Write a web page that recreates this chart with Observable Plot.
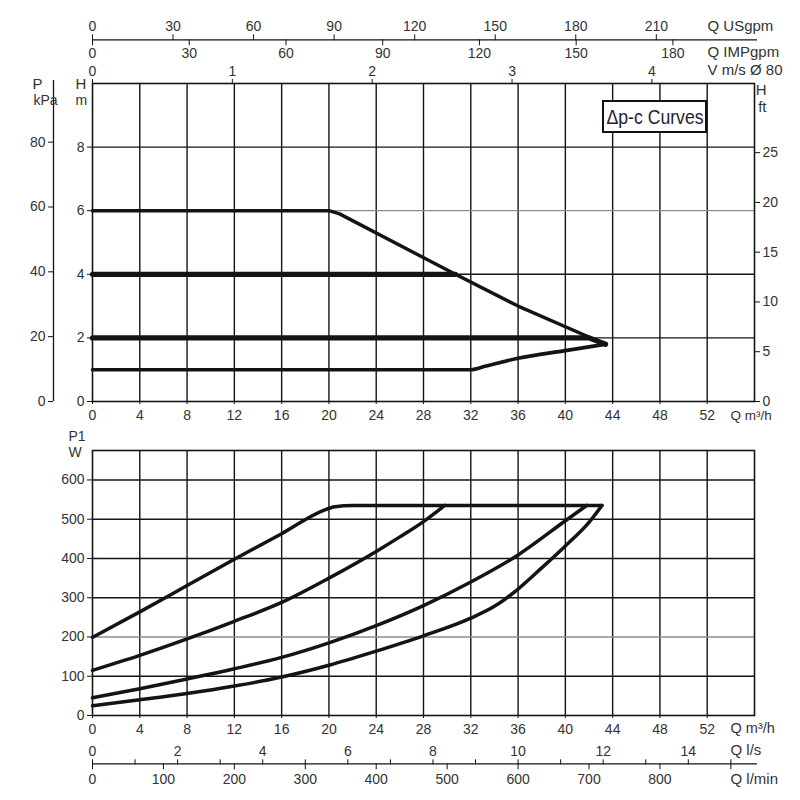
<!DOCTYPE html>
<html><head><meta charset="utf-8">
<script src="https://cdn.jsdelivr.net/npm/d3@7"></script>
<script src="https://cdn.jsdelivr.net/npm/@observablehq/plot@0.6"></script>
<style>
html,body{margin:0;padding:0;background:#fff;}
#wrap{position:relative;width:800px;height:800px;overflow:hidden;font-family:"Liberation Sans",Arial,sans-serif;}
#wrap svg{position:absolute;left:0;overflow:visible;}
#legend{position:absolute;left:602px;top:100px;width:101px;height:29px;border:2px solid #111;background:#fff;
  font-family:"Liberation Sans",Arial,sans-serif;font-size:20.5px;line-height:29px;color:#223;
  white-space:nowrap;overflow:hidden;}
#legend span{position:absolute;left:50%;top:0;transform:translateX(-50%) scaleX(0.86);}
</style></head>
<body><div id="wrap"></div>
<script>
// ---------- data ----------
// flow axis (m3/h)
const qTicks = [0,4,8,12,16,20,24,28,32,36,40,44,48,52];
const qGrid  = [4,8,12,16,20,24,28,32,36,40,44,48,52];
// upper chart: head H (m), Δp-c curves
const hTicks = [0,2,4,6,8];
const hGridDark = [2,4,8];
const hGridLight = [6];
const kpaTicks = [0,20,40,60,80];
const ftTicks = [0,5,10,15,20,25];
const usTicks = [0,30,60,90,120,150,180,210];
const impTicks = [0,30,60,90,120,150,180];
const vTicks = [0,1,2,3,4];

const upQ6 = [0,20,20.9,30.7,36,43.4];
const upH6 = [6,6,5.9,4.0,3.0,1.8];
const upQ4 = [0,30.7];
const upH4 = [4,4];
const upQ2 = [0,42,43.4];
const upH2 = [2,2,1.8];
const upQ1 = [0,32,33.3,36,40,43.4];
const upH1 = [1.0,1.0,1.12,1.36,1.6,1.8];

// lower chart: input power P1 (W)
const wTicks = [0,100,200,300,400,500,600];
const wGridDark = [100,300,400,500,600];
const wGridLight = [200];
const lsTicks = [0,1,2,3,4,5,6,7,8,9,10,11,12,13,14,15];
const lsLabels = [0,2,4,6,8,10,12,14];
const lminTicks = [0,100,200,300,400,500,600,700,800,900];
const lminLabels = [0,100,200,300,400,500,600,700,800];

const pQ6 = [0,4,8,12,16,19.5,20.5,22,43.1];
const pW6 = [199,264,331,398,463,522,532,535,535];
const pQ4 = [0,4,8,12,16,20,24,26,28,29.8];
const pW4 = [115,153,195,240,288,350,418,455,494,535];
const pQ2 = [0,4,8,12,16,20,24,28,32,36,40,41.8];
const pW2 = [45,68,93,119,148,185,229,280,340,409,496,535];
const pQ1 = [0,4,8,12,16,20,24,28,32,34,36,38,40,42,43.1];
const pW1 = [25,40,56,75,98,128,164,203,248,278,322,376,432,492,535];

// unit conversions (to m3/h, m)
const M3H_PER_USGPM = 0.22712;
const M3H_PER_IMPGPM = 0.27277;
const M3H_PER_MS = 11.83;   // velocity scale as drawn, Ø 80
const M3H_PER_LS = 3.6;
const M3H_PER_LMIN = 0.06;
const KPA_PER_M = 9.81;
const M_PER_FT = 0.313;     // as drawn
const Q_MAX = 56, H_MAX = 10, W_MAX = 675;

// ---------- build ----------
const zip = (xs, ys) => xs.map((x, i) => ({q: x, v: ys[i]}));
const INK = "#141414", TXT = "#333";
const FONT = "'Liberation Sans', Arial, sans-serif";
const lbl = (s, o) => Plot.text([s], {text: d => d, fill: TXT, fontSize: 14, lineAnchor: "middle", ...o});

const upper = Plot.plot({
  width: 800, height: 425,
  marginTop: 83, marginBottom: 24, marginLeft: 92, marginRight: 46,
  style: {fontFamily: FONT, fontSize: "14px", background: "transparent", color: INK},
  x: {domain: [0, Q_MAX]},
  y: {domain: [0, H_MAX]},
  marks: [
    Plot.ruleX(qGrid, {stroke: INK, strokeWidth: 1.4}),
    Plot.ruleY(hGridDark, {stroke: INK, strokeWidth: 1.4}),
    Plot.ruleY(hGridLight, {stroke: "#8c8c8c", strokeWidth: 1.3}),
    Plot.frame({stroke: INK, strokeWidth: 1.6}),
    Plot.line(zip(upQ6, upH6), {x: "q", y: "v", stroke: INK, strokeWidth: 3.4}),
    Plot.line(zip(upQ4, upH4), {x: "q", y: "v", stroke: INK, strokeWidth: 5.2}),
    Plot.line(zip(upQ2, upH2), {x: "q", y: "v", stroke: INK, strokeWidth: 5.2, strokeLinejoin: "miter"}),
    Plot.line(zip(upQ1, upH1), {x: "q", y: "v", stroke: INK, strokeWidth: 3.6, curve: "monotone-x"}),
    // axes
    Plot.axisX(qTicks, {anchor: "bottom", tickSize: 3, tickPadding: 6, label: null, fill: TXT, stroke: INK}),
    Plot.axisY(hTicks, {anchor: "left", tickSize: 5, tickPadding: 3, label: null, fill: TXT, stroke: INK}),
    Plot.axisY(ftTicks.map(v => v * M_PER_FT), {anchor: "right", tickSize: 5, tickPadding: 3, label: null, fill: TXT, stroke: INK,
      tickFormat: d => Math.round(d / M_PER_FT)}),
    Plot.axisY(kpaTicks.map(v => v / KPA_PER_M), {anchor: "left", dx: -39, tickSize: 5, tickPadding: 3, label: null, fill: TXT, stroke: INK,
      tickFormat: d => Math.round(d * KPA_PER_M)}),
    Plot.ruleX([0], {dx: -39, insetTop: -3, stroke: INK, strokeWidth: 1.3}),
    Plot.axisX(vTicks.map(v => v * M3H_PER_MS), {anchor: "top", tickSize: 5, tickPadding: 3, label: null, fill: TXT, stroke: INK,
      tickFormat: d => Math.round(d / M3H_PER_MS)}),
    Plot.axisX(usTicks.map(v => v * M3H_PER_USGPM), {anchor: "top", dy: -43.7, tickSize: 6, tickPadding: 3, label: null, fill: TXT, stroke: INK,
      tickFormat: d => Math.round(d / M3H_PER_USGPM)}),
    Plot.ruleY([H_MAX], {dy: -43.7, insetRight: -3, stroke: INK, strokeWidth: 1.3}),
    Plot.axisX(impTicks.map(v => v * M3H_PER_IMPGPM), {anchor: "bottom", dy: -361.7, tickSize: 6, tickPadding: 2, label: null, fill: TXT, stroke: INK,
      tickFormat: d => Math.round(d / M3H_PER_IMPGPM)}),
    // unit labels
    lbl("Q USgpm", {frameAnchor: "top-right", dx: -47, dy: -57, textAnchor: "start", fontSize: 15}),
    lbl("Q IMPgpm", {frameAnchor: "top-right", dx: -47, dy: -31.3, textAnchor: "start", fontSize: 15}),
    lbl("V m/s Ø 80", {frameAnchor: "top-right", dx: -47, dy: -13.7, textAnchor: "start", fontSize: 15}),
    lbl("Q m³/h", {frameAnchor: "bottom-right", dx: -24, dy: 14, textAnchor: "start", fontSize: 13.5}),
    lbl("H", {frameAnchor: "top-right", dx: 12, dy: 6.3, fontSize: 15}),
    lbl("ft", {frameAnchor: "top-right", dx: 12, dy: 23.7, fontSize: 15}),
    lbl("P", {frameAnchor: "top-left", dx: -60, dy: 0.3, fontSize: 15}),
    lbl("kPa", {frameAnchor: "top-left", dx: -59, dy: 17}),
    lbl("H", {frameAnchor: "top-left", dx: -17, dy: 0.3, fontSize: 15}),
    lbl("m", {frameAnchor: "top-left", dx: -17, dy: 17})
  ]
});
upper.style.top = "0px";

const lower = Plot.plot({
  width: 800, height: 375,
  marginTop: 25, marginBottom: 85, marginLeft: 92, marginRight: 46,
  style: {fontFamily: FONT, fontSize: "14px", background: "transparent", color: INK},
  x: {domain: [0, Q_MAX]},
  y: {domain: [0, W_MAX]},
  marks: [
    Plot.ruleX(qGrid, {stroke: INK, strokeWidth: 1.4}),
    Plot.ruleY(wGridDark, {stroke: INK, strokeWidth: 1.4}),
    Plot.ruleY(wGridLight, {stroke: "#8c8c8c", strokeWidth: 1.3}),
    Plot.frame({stroke: INK, strokeWidth: 1.6}),
    Plot.line(zip(pQ6, pW6), {x: "q", y: "v", stroke: INK, strokeWidth: 3.5, curve: "monotone-x"}),
    Plot.line(zip(pQ4, pW4), {x: "q", y: "v", stroke: INK, strokeWidth: 3.5, curve: "monotone-x"}),
    Plot.line(zip(pQ2, pW2), {x: "q", y: "v", stroke: INK, strokeWidth: 3.5, curve: "monotone-x"}),
    Plot.line(zip(pQ1, pW1), {x: "q", y: "v", stroke: INK, strokeWidth: 3.5, curve: "monotone-x"}),
    Plot.axisX(qTicks, {anchor: "bottom", tickSize: 3, tickPadding: 6, label: null, fill: TXT, stroke: INK}),
    Plot.axisY(wTicks, {anchor: "left", tickSize: 5, tickPadding: 3, label: null, fill: TXT, stroke: INK}),
    Plot.ruleY([0], {dy: 48.3, insetRight: -3, stroke: INK, strokeWidth: 1.3}),
    Plot.axisX(lsTicks.map(v => v * M3H_PER_LS), {anchor: "top", dy: 313.3, tickSize: 5, tickPadding: 3, label: null, fill: TXT, stroke: INK,
      tickFormat: d => { const v = Math.round(d / M3H_PER_LS); return lsLabels.includes(v) ? v : ""; }}),
    Plot.axisX(lminTicks.map(v => v * M3H_PER_LMIN), {anchor: "bottom", dy: 48.3, tickSize: 6, tickPadding: 4, label: null, fill: TXT, stroke: INK,
      tickFormat: d => { const v = Math.round(d / M3H_PER_LMIN); return lminLabels.includes(v) ? v : ""; }}),
    lbl("P1", {frameAnchor: "top-left", dx: -24, dy: -14, fontSize: 14}),
    lbl("W", {frameAnchor: "top-left", dx: -24, dy: 2.5, fontSize: 14}),
    lbl("Q m³/h", {frameAnchor: "bottom-right", dx: -24, dy: 13, textAnchor: "start", fontSize: 14.5}),
    lbl("Q l/s", {frameAnchor: "bottom-right", dx: -24, dy: 35, textAnchor: "start", fontSize: 15}),
    lbl("Q l/min", {frameAnchor: "bottom-right", dx: -24, dy: 64, textAnchor: "start", fontSize: 15})
  ]
});
lower.style.top = "425px";

const wrap = document.getElementById("wrap");
wrap.appendChild(upper);
wrap.appendChild(lower);
const lg = document.createElement("div");
lg.id = "legend";
const sp = document.createElement("span");
sp.textContent = "Δp-c Curves";
lg.appendChild(sp);
wrap.appendChild(lg);
</script>
</body></html>
